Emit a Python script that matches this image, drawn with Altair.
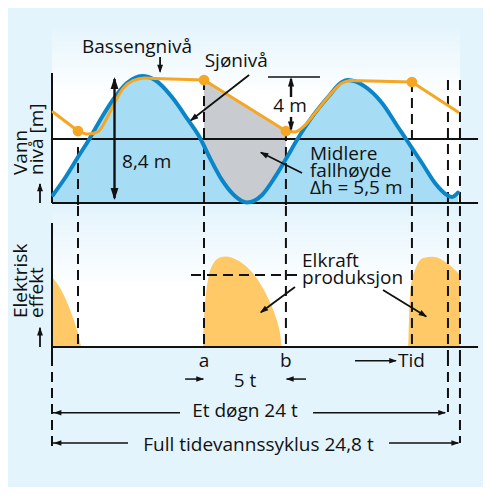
import altair as alt
import pandas as pd

# ---------------- data ----------------
# x: time in hours; top panel y: water level [m] (0 = mean); middle panel y: electric power (relative)
sea_t = [0.06, 0.79, 1.58, 2.31, 3.04, 3.83, 4.56, 5.47, 6.26, 7.29, 8.27, 9.00, 9.60, 10.33, 11.12,
         11.85, 12.77, 13.56, 14.29, 14.89, 15.81, 16.78, 17.63, 17.99, 19.03, 20.06, 21.03, 21.64,
         22.49, 23.28, 24.01, 24.32, 24.68]
sea_h = [-3.73, -2.60, -1.20, 0.07, 1.47, 2.80, 3.73, 4.20, 3.93, 2.80, 1.27, 0.07, -1.27, -2.73, -3.80,
         -4.23, -3.73, -2.53, -1.20, -0.07, 1.47, 2.80, 3.80, 3.93, 3.49, 2.40, 0.80, -0.20,
         -1.60, -2.93, -3.73, -3.87, -3.57]

basin_t = [0.06, 1.58,
           1.58, 2.19, 2.80, 3.34, 3.83, 4.32, 4.92, 5.65, 6.26,
           6.26, 9.24, 14.22,
           14.22, 14.77, 15.38, 15.99, 16.78, 17.63, 18.12,
           18.12, 21.88, 24.68]
basin_h = [1.80, 0.53,
           0.53, 0.33, 0.49, 1.40, 2.47, 3.37, 3.89, 4.07, 4.03,
           4.03, 3.93, 0.53,
           0.53, 0.47, 0.93, 1.73, 2.80, 3.73, 3.90,
           3.90, 3.80, 1.80]
basin_seg = ["A", "A",
             "B", "B", "B", "B", "B", "B", "B", "B", "B",
             "C", "C", "C",
             "D", "D", "D", "D", "D", "D", "D",
             "E", "E", "E"]
curved_segs = ["B", "D"]

dot_t = [1.58, 9.24, 14.22, 21.88]
dot_h = [0.53, 3.93, 0.53, 3.80]

grey_t = [9.24, 14.22]
grey_h = [3.93, 0.53]

pw_t = [0.0, 0.49, 0.91, 1.28, 1.58, 1.82,
        9.18, 9.21, 9.30, 9.48, 9.79, 10.21, 10.58, 11.12, 11.85, 12.52, 13.13, 13.62, 13.86, 13.98,
        21.64, 21.70, 21.76, 21.88, 22.07, 22.55, 23.16, 24.01, 24.80]
pw_p = [5.65, 4.76, 3.63, 2.34, 1.13, 0.0,
        0.0, 1.37, 3.39, 5.40, 6.69, 7.22, 7.30, 7.10, 6.45, 5.40, 3.95, 2.34, 1.13, 0.0,
        0.0, 2.18, 4.03, 5.40, 6.21, 7.18, 7.28, 6.77, 5.81]
pw_g = [1] * 6 + [2] * 14 + [3] * 9

base_h = -4.27      # bottom line of the water-level panel
mean_h = 0.0
line_end = 25.9     # right end of the horizontal lines
day_t = 24.07       # "Et døgn 24 t"
cycle_t = 24.8      # "Full tidevannssyklus 24,8 t"

# ---------------- style ----------------
FONT = "Open Sans"
FS = 19
INK = "#111111"
BG = "#e4f4fc"
BLUE = "#0a86c8"
LIGHTBLUE = "#a7dcf5"
ORANGE = "#f5a623"
POWER = "#fec966"
GREY = "#c8ccd0"
HEAD_BIG = "M0,0L-0.65,2L0.65,2Z"
HEAD = "M0,0L-0.7,2L0.7,2Z"

xs = alt.Scale(domain=[-2.675, 26.2], nice=False, zero=False)
ys1 = alt.Scale(domain=[-4.467, 8.733], nice=False, zero=False)
ys2 = alt.Scale(domain=[-0.726, 11.371], nice=False, zero=False)
ys3 = alt.Scale(domain=[0, 10], nice=False, zero=False, reverse=True)
W = 475


def X(f):
    return alt.X(f"{f}:Q", scale=xs, axis=None)


def Y(f, ys):
    return alt.Y(f"{f}:Q", scale=ys, axis=None)


def rules(rows, ys, **mark):
    df = pd.DataFrame(rows, columns=["x1", "x2", "y1", "y2"])
    return alt.Chart(df).mark_rule(**mark).encode(
        x=X("x1"), x2="x2:Q", y=Y("y1", ys), y2="y2:Q")


def heads(rows, ys, size, path=HEAD):
    df = pd.DataFrame(rows, columns=["t", "y", "a"])
    return alt.Chart(df).mark_point(shape=path, filled=True, color=INK, opacity=1,
                                    size=size, strokeWidth=0).encode(
        x=X("t"), y=Y("y", ys), angle=alt.Angle("a:Q", scale=None))


def texts(rows, ys, **mark):
    df = pd.DataFrame(rows, columns=["t", "y", "s"])
    opts = dict(font=FONT, fontSize=FS, color=INK, baseline="alphabetic")
    opts.update(mark)
    return alt.Chart(df).mark_text(**opts).encode(x=X("t"), y=Y("y", ys), text="s:N")


def grad(stop):
    return alt.Gradient(gradient="linear",
                        stops=[alt.GradientStop(color=BG, offset=0),
                               alt.GradientStop(color="#ffffff", offset=stop),
                               alt.GradientStop(color="#ffffff", offset=1)],
                        x1=0, x2=0, y1=0, y2=1)


DASH = [10, 6]

# ---------------- panel 1: water level ----------------
sea = pd.DataFrame({"t": sea_t, "h": sea_h, "b": base_h})
basin = pd.DataFrame({"t": basin_t, "h": basin_h, "seg": basin_seg})
dots = pd.DataFrame({"t": dot_t, "h": dot_h})
grey = pd.DataFrame({"t": grey_t, "h": grey_h, "b": base_h})

bg1 = alt.Chart(pd.DataFrame({"x1": [0], "x2": [cycle_t], "y1": [7.6], "y2": [base_h]})).mark_rect(
    color=grad(0.4)).encode(x=X("x1"), x2="x2:Q", y=Y("y1", ys1), y2="y2:Q")

grey_area = alt.Chart(grey).mark_area(color=GREY, opacity=1, interpolate="linear").encode(
    x=X("t"), y=Y("h", ys1), y2="b:Q")
blue_area = alt.Chart(sea).mark_area(color=LIGHTBLUE, opacity=1, interpolate="monotone").encode(
    x=X("t"), y=Y("h", ys1), y2="b:Q")

frame1 = rules([[0, line_end, mean_h, mean_h], [0, line_end, base_h, base_h], [0, 0, base_h, 4.4]],
               ys1, color=INK, strokeWidth=2)
dash1 = rules([[1.58, 1.58, -0.53, -4.467], [9.24, 9.24, 3.93, -4.467], [14.22, 14.22, 0.53, -4.467],
               [21.88, 21.88, 3.80, -4.467], [day_t, day_t, 3.93, -4.467], [cycle_t, cycle_t, 3.93, -4.467]],
              ys1, color=INK, strokeWidth=2, strokeDash=DASH)

blue_line = alt.Chart(sea).mark_line(color=BLUE, strokeWidth=4, interpolate="monotone",
                                     strokeCap="round").encode(x=X("t"), y=Y("h", ys1))
orange_curved = alt.Chart(basin[basin.seg.isin(curved_segs)]).mark_line(
    color=ORANGE, strokeWidth=3, interpolate="monotone", strokeCap="round").encode(
    x=X("t"), y=Y("h", ys1), detail="seg:N")
orange_straight = alt.Chart(basin[~basin.seg.isin(curved_segs)]).mark_line(
    color=ORANGE, strokeWidth=3, interpolate="linear", strokeCap="round").encode(
    x=X("t"), y=Y("h", ys1), detail="seg:N")
dot_marks = alt.Chart(dots).mark_circle(color=ORANGE, opacity=1, size=115).encode(
    x=X("t"), y=Y("h", ys1))

ann1 = rules([[13.13, 16.29, 4.13, 4.13]], ys1, color=INK, strokeWidth=1.5)
shafts1 = rules([[3.80, 3.80, 4.0, -3.95], [14.53, 14.53, 4.0, 2.8], [14.53, 14.53, 1.47, 0.65]],
                ys1, color=INK, strokeWidth=2.4)
thin1 = rules([[6.57, 6.57, 5.47, 4.5], [11.98, 8.45, 4.27, 1.25], [15.2, 12.7, -2.27, -0.9],
               [-0.73, -0.73, base_h, -3.0]], ys1, color=INK, strokeWidth=1.8)
big_heads1 = heads([[3.80, 4.13, 0], [3.80, -4.07, 180]], ys1, 144, HEAD_BIG)
mid_heads1 = heads([[14.53, 4.13, 0], [14.53, 0.53, 180]], ys1, 90, HEAD_BIG)
small_heads1 = heads([[6.57, 4.4, 180], [8.39, 1.2, 232], [12.64, -0.87, 297], [-0.73, -2.93, 0]],
                     ys1, 70)

txt1_c = texts([[5.17, 5.73, "Bassengnivå"], [11.2, 4.8, "Sjønivå"], [14.47, 1.8, "4 m"]],
               ys1, align="center")
txt1_l = texts([[4.26, -1.93, "8,4 m"], [15.68, -1.4, "Midlere"], [15.68, -2.53, "fallhøyde"],
                [15.68, -3.67, "Δh = 5,5 m"]], ys1, align="left")
txt1_r = texts([[-1.52, -2.4, "Vann"], [-0.55, -2.4, "nivå [m]"]], ys1, align="left", angle=270)

panel1 = alt.layer(bg1, grey_area, blue_area, frame1, dash1, blue_line, orange_straight,
                   orange_curved, dot_marks, ann1, shafts1, thin1, big_heads1, mid_heads1,
                   small_heads1, txt1_c, txt1_l, txt1_r).properties(width=W, height=198)

# ---------------- panel 2: electric power ----------------
power = pd.DataFrame({"t": pw_t, "p": pw_p, "g": pw_g})

bg2 = alt.Chart(pd.DataFrame({"x1": [0], "x2": [cycle_t], "y1": [11.29], "y2": [0]})).mark_rect(
    color=grad(0.6)).encode(x=X("x1"), x2="x2:Q", y=Y("y1", ys2), y2="y2:Q")
power_area = alt.Chart(power).mark_area(color=POWER, opacity=1, interpolate="monotone").encode(
    x=X("t"), y=Y("p", ys2), detail="g:N")
dash2 = rules([[1.58, 1.58, 11.371, 0], [9.24, 9.24, 11.371, 0], [14.22, 14.22, 11.371, 0],
               [21.88, 21.88, 11.371, 0], [day_t, day_t, 11.371, -0.726],
               [cycle_t, cycle_t, 11.371, -0.726], [0, 0, 0, -0.726], [8.45, 14.95, 5.81, 5.81]],
              ys2, color=INK, strokeWidth=2, strokeDash=DASH)
frame2 = rules([[0, 0, 0, 10], [0, line_end, 0, 0]], ys2, color=INK, strokeWidth=2)
thin2 = rules([[14.77, 12.7, 4.84, 2.8], [20.12, 22.75, 4.60, 2.46], [-0.73, -0.73, 0, 1.55]],
              ys2, color=INK, strokeWidth=1.8)
heads2 = heads([[12.64, 2.74, 233], [22.8, 2.42, 121.5], [-0.73, 1.61, 0]], ys2, 70)
txt2_l = texts([[15.2, 6.45, "Elkraft"], [15.2, 5.08, "produksjon"]], ys2, align="left")
txt2_r = texts([[-1.52, 2.34, "Elektrisk"], [-0.55, 2.34, "effekt"]], ys2, align="left", angle=270)

panel2 = alt.layer(bg2, power_area, dash2, frame2, thin2, heads2, txt2_l, txt2_r).properties(
    width=W, height=150)

# ---------------- panel 3: time spans ----------------
dash3 = rules([[0, 0, 0, 6.95], [day_t, day_t, 0, 4.27], [cycle_t, cycle_t, 0, 6.64]],
              ys3, color=INK, strokeWidth=2, strokeDash=DASH)
thin3 = rules([[18.42, 20.9, 0.36, 0.36], [8.09, 9.2, 1.76, 1.76], [15.44, 14.26, 1.76, 1.76],
               [0, 7.78, 4.33, 4.33], [15.87, 23.9, 4.33, 4.33],
               [0, 4.62, 6.64, 6.64], [20.49, 24.7, 6.64, 6.64]],
              ys3, color=INK, strokeWidth=1.5)
heads3 = heads([[20.97, 0.36, 90], [9.24, 1.76, 90], [14.22, 1.76, 270],
                [0.1, 4.33, 270], [23.95, 4.33, 90], [0.1, 6.64, 270], [24.75, 6.64, 90]],
               ys3, 60)
txt3_c = texts([[9.24, 0.84, "a"], [14.22, 0.84, "b"], [11.73, 2.37, "5 t"],
                [11.73, 4.66, "Et døgn 24 t"], [12.55, 7.25, "Full tidevannssyklus 24,8 t"]],
               ys3, align="center")
txt3_l = texts([[21.03, 0.84, "Tid"]], ys3, align="left")

panel3 = alt.layer(dash3, thin3, heads3, txt3_c, txt3_l).properties(width=W, height=131)

chart = alt.vconcat(panel1, panel2, panel3, spacing=0, bounds="flush").properties(
    padding=0, background=BG).configure_view(stroke=None)

chart.save("out.html", embed_options={"renderer": "svg", "actions": False})
